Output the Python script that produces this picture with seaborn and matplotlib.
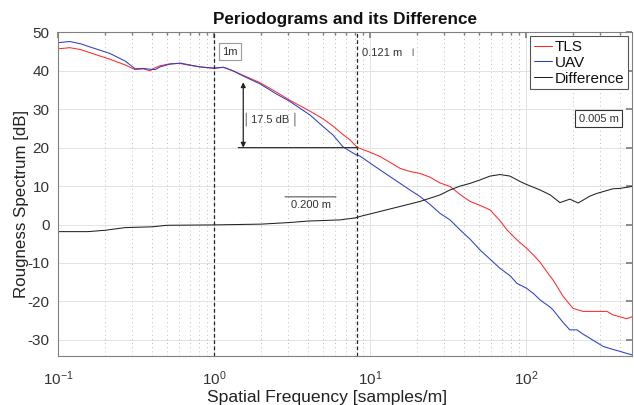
import numpy as np
import pandas as pd
import matplotlib
matplotlib.use("Agg")
import matplotlib.pyplot as plt
import seaborn as sns
from matplotlib.ticker import LogLocator, FixedLocator, NullFormatter

# ---------------- data ----------------
tls_freq = [0.1, 0.119, 0.14, 0.16, 0.215, 0.27, 0.312, 0.35, 0.389, 0.42, 0.451, 0.52,
            0.606, 0.7, 0.813, 1.0, 1.15, 1.32, 1.6, 1.97, 2.5, 3.07, 4.12, 5.0, 5.79,
            6.71, 7.45, 8.26, 10.0, 11.6, 13.4, 15.6, 18.0, 20.9, 24.3, 28.1, 32.6, 37.8,
            43.8, 50.7, 58.8, 68.1, 75.5, 87.5, 101, 112, 123, 143, 149, 173, 200, 232,
            285, 331, 361, 401, 440, 478]
tls_db = [45.7, 46.0, 45.5, 44.7, 43.0, 41.5, 40.3, 40.5, 40.0, 40.8, 41.3, 41.8,
          41.9, 41.4, 41.0, 40.6, 40.9, 40.0, 38.5, 36.9, 34.5, 32.3, 29.5, 27.5, 25.6,
          23.4, 22.0, 20.1, 18.8, 17.7, 16.2, 14.6, 13.8, 13.3, 12.3, 10.8, 9.9, 7.8,
          6.0, 5.0, 3.8, 1.0, -1.4, -4.0, -6.2, -8.0, -9.8, -13.5, -14.4, -18.7, -21.8, -22.6,
          -22.6, -22.6, -23.5, -24.0, -24.5, -24.0]

uav_freq = [0.1, 0.119, 0.14, 0.16, 0.215, 0.27, 0.312, 0.35, 0.389, 0.42, 0.451, 0.52,
            0.606, 0.7, 0.813, 1.0, 1.15, 1.32, 1.6, 1.97, 2.5, 3.07, 4.12, 5.0, 5.79,
            6.71, 8.0, 8.63, 10.0, 11.6, 13.4, 15.6, 18.0, 20.9, 24.3, 28.1, 32.6, 37.8,
            43.8, 50.7, 58.8, 68.1, 78.9, 87.5, 101, 112, 123, 143, 149, 173, 191, 212,
            232, 257, 312, 361, 401, 440, 478]
uav_db = [47.3, 47.6, 47.0, 46.2, 44.5, 42.5, 40.5, 40.6, 40.4, 40.3, 41.0, 41.7,
          42.0, 41.5, 41.0, 40.7, 40.9, 40.0, 38.3, 36.6, 34.0, 32.0, 28.5, 25.5, 23.3,
          20.2, 18.3, 17.8, 16.0, 14.2, 12.5, 10.7, 9.0, 7.3, 5.2, 2.9, 1.2, -1.4,
          -3.8, -6.6, -9.0, -11.4, -13.3, -15.3, -16.6, -18.0, -19.6, -21.5, -22.2, -25.5, -27.4, -27.4,
          -28.5, -29.6, -31.7, -32.5, -33.0, -33.5, -33.9]

diff_freq = [0.1, 0.155, 0.2, 0.27, 0.4, 0.5, 1.0, 2.0, 3.0, 4.0, 6.4, 8.0, 8.63, 11.6,
             15.6, 20.9, 28.1, 32.6, 37.8, 43.8, 50.7, 58.8, 68.1, 78.9, 91.5, 101, 123,
             143, 165, 191, 216, 257, 285, 361, 401, 478]
diff_db = [-1.85, -1.85, -1.5, -0.8, -0.6, -0.2, -0.1, 0.1, 0.5, 0.9, 1.2, 1.7, 2.1, 3.4,
           4.7, 6.0, 7.7, 9.0, 10.0, 10.7, 11.6, 12.6, 13.0, 12.6, 11.2, 10.4, 9.0,
           7.7, 5.7, 6.6, 5.6, 7.4, 8.1, 9.3, 9.4, 9.9]

y_ticks = [-30, -20, -10, 0, 10, 20, 30, 40, 50]
series_names = ["TLS", "UAV", "Difference"]

# ---------------- figure ----------------
sns.set_theme(style="white")
plt.rcParams["font.family"] = ["Liberation Sans", "DejaVu Sans"]
plt.rcParams["axes.unicode_minus"] = False

fig = plt.figure(figsize=(6.34, 4.05), dpi=100)
ax = fig.add_axes([58 / 634, 49 / 405, 574 / 634, 323.7 / 405])

sns.lineplot(x=tls_freq, y=tls_db, ax=ax, color="#ff2a2a", lw=0.75,
             label=series_names[0], estimator=None, sort=False)
sns.lineplot(x=uav_freq, y=uav_db, ax=ax, color="#2a3fc8", lw=0.75,
             label=series_names[1], estimator=None, sort=False)
sns.lineplot(x=diff_freq, y=diff_db, ax=ax, color="#222222", lw=0.75,
             label=series_names[2], estimator=None, sort=False)

ax.set_xscale("log")
ax.set_xlim(0.1, 478)
ax.set_ylim(-34.2, 50)
ax.yaxis.set_major_locator(FixedLocator(y_ticks))
ax.xaxis.set_major_locator(LogLocator(base=10, numticks=10))
ax.xaxis.set_minor_locator(LogLocator(base=10, subs=np.arange(2, 10), numticks=20))
ax.xaxis.set_minor_formatter(NullFormatter())

ax.grid(True, which="major", axis="both", color="#e3e3e3", lw=0.7, ls="-")
ax.grid(True, which="minor", axis="x", color="#a8a8a8", lw=0.6, ls=(0, (1, 4)))
ax.set_axisbelow(True)

for s in ax.spines.values():
    s.set_color("#808080")
    s.set_linewidth(0.8)
ax.tick_params(axis="both", which="both", direction="in", colors="#808080",
               labelcolor="#333333", labelsize=11, top=True, right=True)
ax.tick_params(axis="both", which="major", length=4)
ax.tick_params(axis="x", which="minor", length=2)
ax.tick_params(axis="x", pad=10)
ax.tick_params(axis="y", pad=6)

ax.set_title("Periodograms and its Difference", fontsize=12.3, fontweight="bold",
             color="#111111", pad=6)
ax.set_xlabel("Spatial Frequency [samples/m]", fontsize=12.6, color="#222222")
ax.xaxis.set_label_coords((327 - 58) / 574, -0.105)
ax.set_ylabel("Rougness Spectrum [dB]", fontsize=12.2, color="#222222")
ax.yaxis.set_label_coords(-0.05, 0.47)

# vertical dashed markers
ax.axvline(1.0, color="#222222", ls=(0, (3, 2)), lw=0.9)
ax.axvline(8.26, color="#222222", ls=(0, (3, 2)), lw=0.9)

# annotations
ann_fs = 8
ax.text(1.27, 45.0, "1m", fontsize=ann_fs, color="#333333", ha="center", va="center",
        bbox=dict(boxstyle="square,pad=0.3", fc="white", ec="#9a9a9a", lw=0.8))
ax.text(8.9, 44.6, "0.121 m", fontsize=ann_fs, color="#333333", ha="left", va="center")
ax.annotate("", xy=(18.9, 46.4), xytext=(18.9, 43.2),
            arrowprops=dict(arrowstyle="-", color="#777777", lw=0.8))

ax.annotate("", xy=(1.54, 37.0), xytext=(1.54, 20.0),
            arrowprops=dict(arrowstyle="<|-|>", color="#222222", lw=0.9,
                            mutation_scale=7, shrinkA=0, shrinkB=0))
ax.annotate("", xy=(1.43, 20.0), xytext=(8.26, 20.0),
            arrowprops=dict(arrowstyle="-", color="#333333", lw=0.9, shrinkA=0, shrinkB=0))
ax.text(2.30, 27.3, "17.5 dB", fontsize=ann_fs, color="#333333", ha="center", va="center")
for xb in (1.61, 3.30):
    ax.annotate("", xy=(xb, 29.0), xytext=(xb, 25.6),
                arrowprops=dict(arrowstyle="-", color="#777777", lw=0.8,
                                shrinkA=0, shrinkB=0))

ax.text(4.19, 5.1, "0.200 m", fontsize=ann_fs, color="#333333", ha="center", va="center")
ax.annotate("", xy=(2.85, 7.2), xytext=(6.05, 7.2),
            arrowprops=dict(arrowstyle="-", color="#555555", lw=0.8, shrinkA=0, shrinkB=0))

ax.text(292, 27.5, "0.005 m", fontsize=ann_fs, color="#333333", ha="center", va="center",
        bbox=dict(boxstyle="square,pad=0.3", fc="white", ec="#333333", lw=0.8))

leg = ax.legend(loc="upper right", frameon=True, fancybox=False, edgecolor="#555555",
                framealpha=1, fontsize=11, handlelength=1.2, handletextpad=0.15,
                borderaxespad=0.25, labelspacing=0.12, borderpad=0.25)
leg.get_frame().set_linewidth(0.8)
for t in leg.get_texts():
    t.set_color("#111111")

fig.savefig("out.png", dpi=100)
